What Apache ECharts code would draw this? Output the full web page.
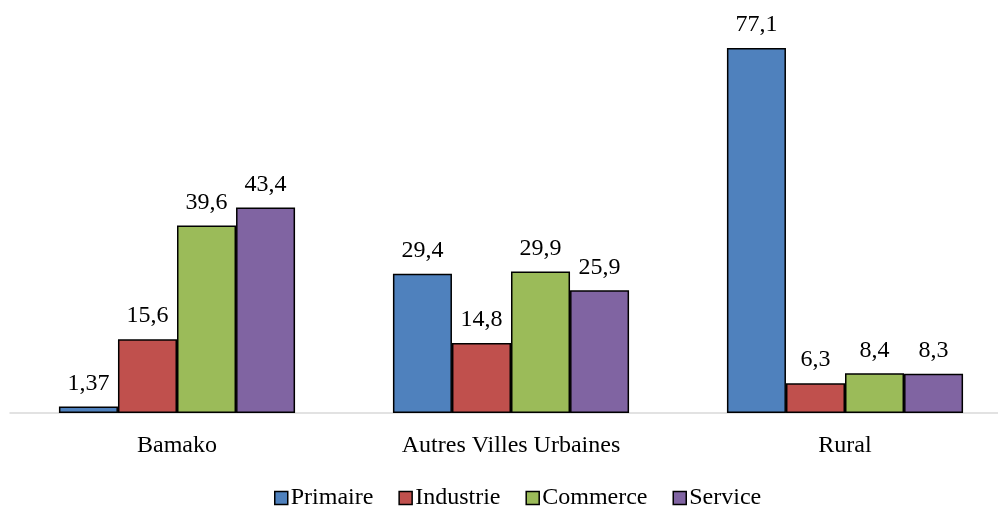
<!DOCTYPE html>
<html>
<head>
<meta charset="utf-8">
<script src="https://cdn.jsdelivr.net/npm/echarts@6/dist/echarts.min.js"></script>
<style>
	html, body { margin: 0; padding: 0; background: #fff; }
	#chart { width: 998px; height: 507px; }
</style>
</head>
<body>
<div id="chart"></div>
<script>
	// catégories et séries
	var categories = ['Bamako', 'Autres Villes Urbaines', 'Rural'];
	var primaire = [1.37, 29.4, 77.1];
	var industrie = [15.6, 14.8, 6.3];
	var commerce = [39.6, 29.9, 8.4];
	var service = [43.4, 25.9, 8.3];

	var serif = '"Liberation Serif", "DejaVu Serif", serif';

	function mkSeries(name, data, color) {
		return {
			name: name,
			type: 'bar',
			data: data,
			barGap: '0%',
			barCategoryGap: '29.3%',
			itemStyle: { color: color, borderColor: '#000', borderWidth: 1.5 },
			label: {
				show: true,
				position: 'top',
				distance: 11,
				color: '#000',
				fontFamily: serif,
				fontSize: 24,
				formatter: function (p) { return String(p.value).replace('.', ','); }
			}
		};
	}

	var myChart = echarts.init(document.getElementById('chart'));
	var option = {
		animation: false,
		textStyle: { fontFamily: serif },
		legend: {
			top: 481,
			left: 269,
			itemWidth: 13,
			itemHeight: 13,
			itemGap: 25,
			icon: 'rect',
			textStyle: { fontFamily: serif, fontSize: 24, color: '#000', padding: [0, 0, 0, -2] },
			itemStyle: { borderColor: '#000', borderWidth: 1.5 },
			data: ['Primaire', 'Industrie', 'Commerce', 'Service']
		},
		grid: { left: 10, width: 1002, top: 20, bottom: 94, containLabel: false, outerBoundsMode: 'none' },
		xAxis: {
			type: 'category',
			data: categories,
			axisLine: { lineStyle: { color: '#d9d9d9', width: 1.5 } },
			axisTick: { show: false },
			axisLabel: { color: '#000', fontFamily: serif, fontSize: 24, margin: 21 }
		},
		yAxis: {
			type: 'value',
			min: 0,
			max: 83,
			show: false,
			splitLine: { show: false }
		},
		series: [
			mkSeries('Primaire', primaire, '#4f81bd'),
			mkSeries('Industrie', industrie, '#c0504d'),
			mkSeries('Commerce', commerce, '#9bbb59'),
			mkSeries('Service', service, '#8064a2')
		]
	};
	myChart.setOption(option);
</script>
</body>
</html>
